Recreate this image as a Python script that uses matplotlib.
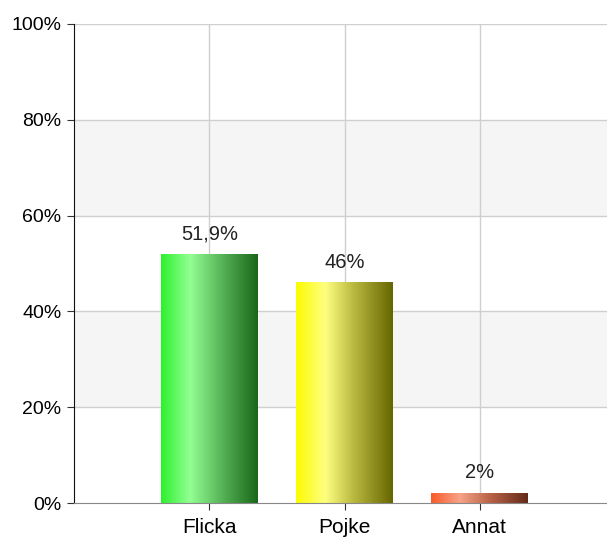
import numpy as np
import matplotlib
matplotlib.use('Agg')
import matplotlib.pyplot as plt
from matplotlib.colors import LinearSegmentedColormap

# data
categories = ['Flicka', 'Pojke', 'Annat']
values = [51.9, 46, 2]
value_labels = ['51,9%', '46%', '2%']
y_ticks = [0, 20, 40, 60, 80, 100]

# gradient colours per bar: left edge, highlight, mid, right edge
gradients = [
    ['#2ef02e', '#93ff93', '#5cba5c', '#1a661a'],
    ['#fbfb00', '#ffff80', '#b8b840', '#666600'],
    ['#fa5a2a', '#f7a388', '#bb6448', '#652a1a'],
]

plt.rcParams['font.family'] = ['Liberation Sans', 'DejaVu Sans']

fig = plt.figure(figsize=(6.07, 5.37), dpi=100)
ax = fig.add_axes([74/607, 34/537, 1 - 74/607, (503-24)/537])

x = np.arange(len(categories))
width = 0.715

# alternating bands
for lo in (20, 60):
    ax.axhspan(lo, lo + 20, color='#f5f5f5', zorder=0, lw=0)
for t in y_ticks[1:]:
    ax.axhline(t, color='#cfcfcf', lw=1, zorder=1)
for xi in x:
    ax.axvline(xi, color='#cfcfcf', lw=1, zorder=1)

grad = np.linspace(0, 1, 256).reshape(1, -1)
for xi, v, lab, cols in zip(x, values, value_labels, gradients):
    cmap = LinearSegmentedColormap.from_list('g', list(zip([0, 0.3, 0.6, 1], cols)))
    left = xi - width / 2
    ax.imshow(grad, cmap=cmap, aspect='auto', extent=(left, left + width, 0, v),
              zorder=2, interpolation='bilinear')
    ax.text(xi, v + 2.3, lab, ha='center', va='bottom', fontsize=14.5, color='#222222', zorder=3)

ax.set_xlim(-1, 2.94)
ax.set_ylim(0, 100)

ax.set_xticks(x)
ax.set_xticklabels(categories, fontsize=15)
ax.set_yticks(y_ticks)
ax.set_yticklabels([f'{t}%' for t in y_ticks], fontsize=14)
ax.tick_params(axis='both', length=5, color='#333333', pad=4)
ax.tick_params(axis='x', pad=6)

for s in ('top', 'right'):
    ax.spines[s].set_visible(False)
ax.spines['left'].set_color('#111111')
ax.spines['bottom'].set_color('#888888')
ax.spines['bottom'].set_zorder(4)

fig.savefig('out.png', dpi=100)
